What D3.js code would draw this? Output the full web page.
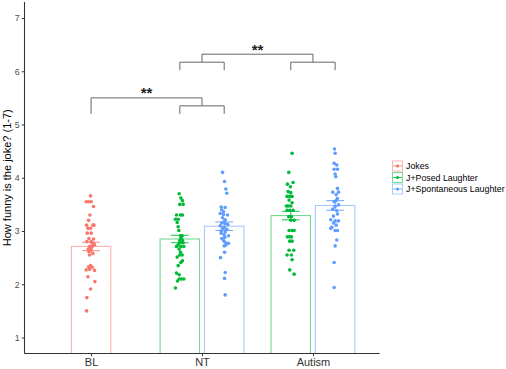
<!DOCTYPE html>
<html><head><meta charset="utf-8">
<script src="https://cdn.jsdelivr.net/npm/d3@7"></script>
<style>body{margin:0;background:#fff;} svg{display:block;font-family:"Liberation Sans",Arial,sans-serif;}</style>
</head><body>
<svg id="c" width="506" height="369"></svg>
<script>
// ---- data ----
const groups = ["BL", "NT", "Autism"];
const conditions = ["Jokes", "J+Posed Laughter", "J+Spontaneous Laughter"];
const condColors = ["#F8766D", "#00BA38", "#619CFF"];
const yTicks = [1, 2, 3, 4, 5, 6, 7];
const yTitle = "How funny is the joke? (1-7)";

const barGroup = ["BL", "NT", "NT", "Autism", "Autism"];
const barCond = ["Jokes", "J+Posed Laughter", "J+Spontaneous Laughter", "J+Posed Laughter", "J+Spontaneous Laughter"];
const barMean = [2.71, 2.85, 3.09, 3.29, 3.48];
const barSE = [0.08, 0.07, 0.08, 0.08, 0.09];

// individual ratings per bar, with horizontal jitter (-1..1)
const ratingsBL = [3.66,3.55,3.55,3.55,3.46,3.30,3.20,3.11,3.11,3.11,3.05,3.05,2.96,2.96,2.86,2.85,2.80,2.80,2.77,2.74,2.71,2.71,2.66,2.66,2.63,2.61,2.58,2.55,2.35,2.33,2.32,2.27,2.28,2.26,2.14,2.05,1.91,1.75,1.50];
const jitterBL  = [-0.1,-0.97,-0.5,0.03,0.5,-0.23,-0.5,-0.9,0.37,0.57,-0.63,-0.1,-0.77,0.03,-0.43,0.5,-0.83,0.03,0.37,0.7,-0.3,0.23,-0.57,0.03,-0.17,-0.43,0.37,-0.3,-0.1,-0.5,0.23,-0.97,-0.3,0.7,-0.63,0.77,-0.1,-0.83,-0.9];

const ratingsNTposed = [3.70,3.62,3.57,3.50,3.50,3.30,3.30,3.30,3.22,3.22,3.16,3.08,3.01,2.91,2.91,2.86,2.82,2.82,2.78,2.78,2.78,2.74,2.71,2.71,2.71,2.66,2.60,2.55,2.55,2.51,2.44,2.41,2.35,2.21,2.18,2.10,2.10,2.10,2.06,1.93];
const jitterNTposed  = [-0.13,0.2,0.53,0,0.67,-0.67,0.13,0.53,-0.87,-0.33,-0.53,-0.33,-0.2,0.13,0.47,0.33,0,0.53,-0.13,0.33,0.67,-0.33,-0.67,0.2,0.8,-0.13,0.13,0,0.47,-0.53,0.53,0.2,-0.33,-0.67,-0.13,0.33,0.8,-0.13,-0.47,-0.87];

const ratingsNTspont = [4.10,3.93,3.79,3.71,3.45,3.44,3.40,3.36,3.33,3.31,3.30,3.25,3.21,3.18,3.15,3.14,3.12,3.10,3.07,3.05,3.03,3.00,2.98,2.96,2.93,2.91,2.88,2.86,2.82,2.79,2.77,2.74,2.72,2.60,2.50,2.22,2.11,1.80];
const jitterNTspont  = [-0.33,0.07,0.33,0.53,-0.6,0.2,-0.5,-0.13,-0.8,-0.13,0.67,-0.33,0.2,0.07,-0.47,0.2,0.73,-0.8,0,-0.3,0.53,-0.6,0.2,-0.6,0,0.87,0.13,-0.47,-0.13,0.2,0.87,0.4,0,0.07,-0.73,0.2,0.07,0.2];

const ratingsAUposed = [4.46,4.10,3.91,3.88,3.83,3.74,3.72,3.65,3.65,3.65,3.58,3.53,3.47,3.47,3.47,3.39,3.39,3.39,3.27,3.27,3.20,3.20,3.01,3.01,3.01,2.89,2.89,2.89,2.81,2.81,2.64,2.64,2.55,2.55,2.46,2.27,2.19];
const jitterAUposed  = [0.27,-0.4,0.47,-0.67,-0.07,-0.53,0,-0.73,-0.2,0.27,-0.33,0.27,-0.87,-0.53,0,-0.2,0.47,-0.73,0.13,-0.4,0,0.67,-0.33,0.27,0.67,-0.67,-0.2,0.13,0.27,-0.2,0.6,-0.33,-0.73,0.13,0.27,-0.2,0.67];

const ratingsAUspont = [4.54,4.46,4.27,4.24,4.16,4.16,4.07,4.02,3.80,3.73,3.73,3.68,3.61,3.57,3.55,3.49,3.46,3.41,3.38,3.32,3.28,3.21,3.19,3.19,3.15,3.11,3.07,3.05,3.01,3.01,2.83,2.72,2.41,1.94];
const jitterAUspont  = [-0.13,0,-0.2,0.33,-0.2,0.47,0,0.13,0.47,-0.47,0.67,0.2,0.47,0.2,-0.2,0.67,0,-0.47,0.33,0.47,-0.33,-0.87,0,0.67,-0.33,0.2,-0.67,-0.87,0,0.47,0.33,0,-0.2,-0.2];

const barRatings = [ratingsBL, ratingsNTposed, ratingsNTspont, ratingsAUposed, ratingsAUspont];
const barJitter = [jitterBL, jitterNTposed, jitterNTspont, jitterAUposed, jitterAUspont];

const sigLabels = ["**", "**"];

// ---- drawing ----
const svg = d3.select("#c");
const P = {l: 24.5, r: 379.5, t: 2, b: 353.5};
const x = d3.scaleLinear().domain([0.4, 3.6]).range([P.l, P.r]);
const y = d3.scaleLinear().domain([0.7, 7.3]).range([P.b, P.t]);
const gIndex = d => groups.indexOf(d) + 1;
const dodge = 0.2, barW = 0.355, jitW = 0.045, ebW = 0.16;
const color = c => condColors[conditions.indexOf(c)];
function barCenter(i) {
  const g = barGroup[i];
  const n = barGroup.filter(v => v === g).length;
  if (n === 1) return gIndex(g);
  const k = barGroup.slice(0, i).filter(v => v === g).length;
  return gIndex(g) + (k === 0 ? -dodge : dodge);
}

svg.append("clipPath").attr("id", "pc").append("rect")
  .attr("x", P.l).attr("y", P.t).attr("width", P.r - P.l).attr("height", P.b - P.t);
const panel = svg.append("g").attr("clip-path", "url(#pc)");

// bars
barMean.forEach((m, i) => {
  const cx = barCenter(i);
  panel.append("rect")
    .attr("x", x(cx - barW / 2)).attr("width", x(cx + barW / 2) - x(cx - barW / 2))
    .attr("y", y(m)).attr("height", y(0) - y(m))
    .attr("fill", "none").attr("stroke", color(barCond[i])).attr("stroke-opacity", 0.55).attr("stroke-width", 1.1);
});
// points
barRatings.forEach((arr, i) => {
  const cx = barCenter(i);
  panel.selectAll(null).data(arr).enter().append("circle")
    .attr("cx", (d, j) => x(cx + barJitter[i][j] * jitW))
    .attr("cy", d => y(d)).attr("r", 1.8)
    .attr("fill", color(barCond[i]));
});
// error bars
barMean.forEach((m, i) => {
  const cx = barCenter(i), se = barSE[i], c = color(barCond[i]);
  const g = panel.append("g").attr("stroke", c).attr("stroke-width", 0.9);
  g.append("line").attr("x1", x(cx)).attr("x2", x(cx)).attr("y1", y(m - se)).attr("y2", y(m + se));
  [m - se, m + se].forEach(v => g.append("line").attr("x1", x(cx - ebW / 2)).attr("x2", x(cx + ebW / 2)).attr("y1", y(v)).attr("y2", y(v)));
});

// axes
const ax = svg.append("g").attr("transform", `translate(${P.l},0)`)
  .call(d3.axisLeft(y).tickValues(yTicks).tickFormat(d3.format("d")).tickSize(2.7).tickPadding(2.2));
const bx = svg.append("g").attr("transform", `translate(0,${P.b})`)
  .call(d3.axisBottom(x).tickValues(groups.map(gIndex)).tickFormat((d, i) => groups[i]).tickSize(2.7).tickPadding(2.2));
[ax, bx].forEach(a => {
  a.select(".domain").attr("stroke", "#333").attr("stroke-width", 1.05);
  a.selectAll(".tick line").attr("stroke", "#333");
  a.selectAll(".tick text").attr("fill", "#4d4d4d").style("font-family", '"Liberation Sans",Arial,sans-serif');
});
ax.selectAll(".tick text").style("font-size", "8.8px");
bx.selectAll(".tick text").style("font-size", "11px").attr("fill", "#333");
ax.select(".domain").attr("d", `M0,${P.b}V${P.t}`);
bx.select(".domain").attr("d", `M${P.l},0H${P.r}`);

svg.append("text").attr("transform", `translate(11,${(P.t + P.b) / 2}) rotate(-90)`)
  .attr("text-anchor", "middle").style("font-size", "11px").attr("fill", "#000").text(yTitle);

// significance brackets
const br = svg.append("g").attr("stroke", "#666").attr("stroke-width", 1).attr("fill", "none");
const ntL = x(gIndex("NT") - dodge), ntR = x(gIndex("NT") + dodge), auL = x(gIndex("Autism") - dodge), auR = x(gIndex("Autism") + dodge);
const ntC = x(gIndex("NT")), auC = x(gIndex("Autism")), blC = x(gIndex("BL"));
br.append("path").attr("d", `M${ntC},${y(6.17)}V${y(6.32)}H${auC}V${y(6.17)}`);
br.append("path").attr("d", `M${ntL},${y(6.02)}V${y(6.17)}H${ntR}V${y(6.02)}`);
br.append("path").attr("d", `M${auL},${y(6.02)}V${y(6.17)}H${auR}V${y(6.02)}`);
br.append("path").attr("d", `M${blC},${y(5.2)}V${y(5.5)}H${ntC}V${y(5.35)}`);
br.append("path").attr("d", `M${ntL},${y(5.2)}V${y(5.35)}H${ntR}V${y(5.2)}`);
svg.append("text").attr("x", (ntC + auC) / 2).attr("y", y(6.32) + 0.4).attr("text-anchor", "middle")
  .style("font-size", "15px").style("font-weight", "bold").attr("fill", "#222").text(sigLabels[0]);
svg.append("text").attr("x", (blC + ntC) / 2).attr("y", y(5.5) + 0.4).attr("text-anchor", "middle")
  .style("font-size", "15px").style("font-weight", "bold").attr("fill", "#222").text(sigLabels[1]);

// legend
const lg = svg.append("g").attr("transform", "translate(392,160.5)");
conditions.forEach((c, i) => {
  const g = lg.append("g").attr("transform", `translate(0,${i * 11.5})`);
  g.append("rect").attr("x", 0.5).attr("y", 0.5).attr("width", 10).attr("height", 10)
    .attr("fill", "#fff").attr("stroke", condColors[i]).attr("stroke-opacity", 0.55);
  g.append("line").attr("x1", 1).attr("x2", 10).attr("y1", 5.5).attr("y2", 5.5).attr("stroke", condColors[i]).attr("stroke-width", 0.8);
  g.append("circle").attr("cx", 5.5).attr("cy", 5.5).attr("r", 1.6).attr("fill", condColors[i]);
  g.append("text").attr("x", 14).attr("y", 5.5).attr("dy", "0.35em").style("font-size", "8.8px").attr("fill", "#000").text(c);
});
</script>
</body></html>
